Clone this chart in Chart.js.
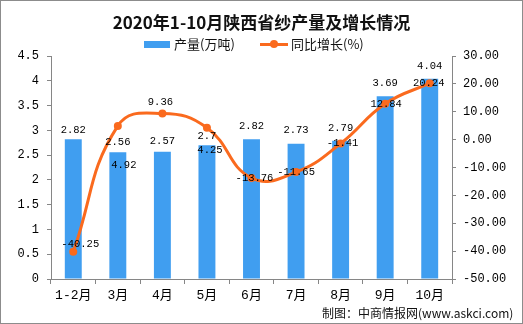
<!DOCTYPE html>
<html><head><meta charset="utf-8">
<script src="https://cdn.jsdelivr.net/npm/chart.js@4"></script>
<style>
html,body{margin:0;padding:0;background:#fff;}
#wrap{position:relative;width:523px;height:324px;overflow:hidden;background:#fff;}
#frame{position:absolute;left:0;top:0;width:523px;height:324px;box-sizing:border-box;border:1px solid #8c8c8c;pointer-events:none;}
#title{position:absolute;left:0;top:11px;width:523px;text-align:center;font:bold 17px "Noto Sans CJK SC",serif;color:#111;line-height:22px;}
.lg{position:absolute;top:36px;font:13px "Noto Sans CJK SC",sans-serif;color:#111;line-height:16px;}
#footer{position:absolute;left:322px;top:305px;font:12px "Noto Sans CJK SC",sans-serif;color:#111;line-height:16px;white-space:nowrap;}
canvas{position:absolute;left:0;top:0;}
</style></head>
<body>
<div id="wrap">
<canvas id="c" width="523" height="324"></canvas>
<div id="title">2020年1-10月陕西省纱产量及增长情况</div>
<div class="lg" style="left:144px;"><span style="display:inline-block;width:26px;height:7px;background:#409ef0;vertical-align:middle;margin-right:4px;position:relative;top:-1px;"></span>产量(万吨)</div>
<div class="lg" style="left:260px;"><span style="display:inline-block;position:relative;width:28px;height:3px;background:#fa6a1e;vertical-align:middle;margin-right:3px;top:-1px;"><span style="position:absolute;left:10px;top:-3px;width:8px;height:8px;border-radius:50%;background:#fa6a1e;"></span></span>同比增长(%)</div>
<div id="footer">制图：中商情报网(www.askci.com)</div>
<div id="frame"></div>
</div>
<script>
const categories = ["1-2月","3月","4月","5月","6月","7月","8月","9月","10月"];
const output = [2.82, 2.56, 2.57, 2.7, 2.82, 2.73, 2.79, 3.69, 4.04];
const growth = [-40.25, 4.92, 9.36, 4.25, -13.76, -11.65, -1.41, 12.84, 20.24];
const leftTicks = ["0","0.5","1","1.5","2","2.5","3","3.5","4","4.5"];
const rightTicks = ["-50.00","-40.00","-30.00","-20.00","-10.00","0.00","10.00","20.00","30.00"];

// label placement styling (pixel offsets)
const barLabelDy = [-9,-10,-10,-9,-13,-13,-13,-13,-13];
const lineLabelOff = [[7,-8],[6,39],[-2,-11],[3,22],[3,0],[0,0],[2,0],[1,0],[-1,0]];

const GREY = '#868686';
const labelPlugin = {
  id: 'vals',
  afterDatasetsDraw(chart) {
    const ctx = chart.ctx;
    ctx.save();
    ctx.font = '10.5px "Liberation Mono", monospace';
    ctx.fillStyle = '#000';
    ctx.textAlign = 'center';
    ctx.textBaseline = 'middle';
    const bm = chart.getDatasetMeta(0);
    bm.data.forEach((el, i) => {
      ctx.fillText(String(output[i]), el.x, el.y + barLabelDy[i]);
    });
    const lm = chart.getDatasetMeta(1);
    lm.data.forEach((el, i) => {
      ctx.fillText(growth[i].toFixed(2), el.x + lineLabelOff[i][0], el.y + lineLabelOff[i][1]);
    });
    ctx.restore();
  }
};

new Chart(document.getElementById('c'), {
  data: {
    labels: categories,
    datasets: [
      { type: 'bar', label: '产量(万吨)', data: output, yAxisID: 'y', backgroundColor: '#409ef0',
        barPercentage: 0.76, categoryPercentage: 0.5, order: 2 },
      { type: 'line', label: '同比增长(%)', data: growth, yAxisID: 'y1', borderColor: '#fa6a1e',
        backgroundColor: '#fa6a1e', borderWidth: 3, tension: 0.45, pointRadius: 4,
        pointBackgroundColor: '#fa6a1e', pointBorderWidth: 0, order: 1 }
    ]
  },
  options: {
    responsive: false,
    animation: false,
    devicePixelRatio: 1,
    layout: { padding: { top: 56, left: 0, right: 0, bottom: 0 } },
    plugins: { legend: { display: false }, title: { display: false }, tooltip: { enabled: false } },
    scales: {
      x: {
        offset: true,
        grid: { offset: true, drawOnChartArea: false, color: GREY, tickLength: 5 },
        border: { color: GREY },
        ticks: { color: '#000', padding: 4, maxRotation: 0, autoSkip: false,
          font: { family: '"Liberation Mono","Noto Sans CJK SC",monospace', size: 13 } },
        afterFit(s) { s.height = 45; }
      },
      y: {
        position: 'left', min: 0, max: 4.5,
        grid: { drawOnChartArea: false, color: GREY, tickLength: 4 },
        border: { color: GREY },
        ticks: { stepSize: 0.5, color: '#000', padding: 8,
          font: { family: '"Liberation Mono",monospace', size: 12 },
          callback: (v, i) => leftTicks[i] },
        afterFit(s) { s.width = 51; }
      },
      y1: {
        position: 'right', min: -50, max: 30,
        grid: { drawOnChartArea: false, color: GREY, tickLength: 4 },
        border: { color: GREY },
        ticks: { stepSize: 10, color: '#000', padding: 7,
          font: { family: '"Liberation Mono",monospace', size: 12 },
          callback: (v, i) => rightTicks[i] },
        afterFit(s) { s.width = 71; }
      }
    }
  },
  plugins: [labelPlugin]
});
</script>
</body></html>
